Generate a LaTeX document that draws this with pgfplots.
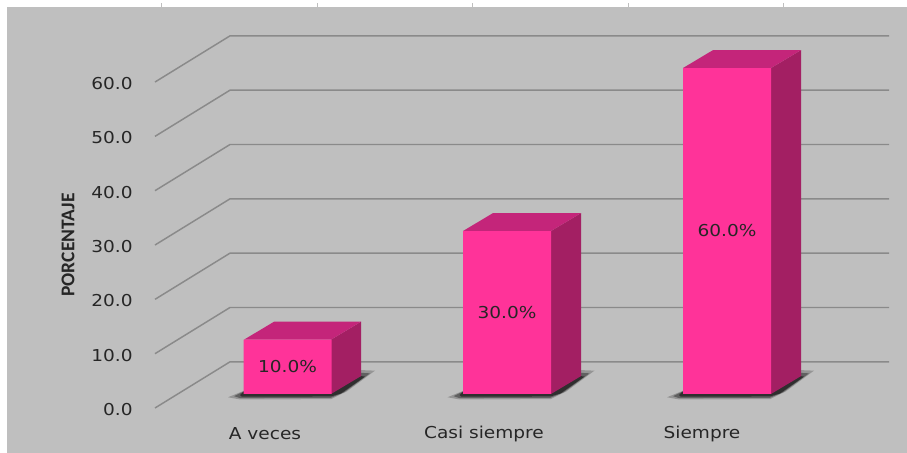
\documentclass[border=0pt]{standalone}
\usepackage{fontspec}
\setmainfont[FakeStretch=1.13]{DejaVu Sans}
\newfontfamily\labelfont{Carlito}
\usepackage{pgfplots}
\usepackage{pgfplotstable}
\pgfplotsset{compat=1.18}

\definecolor{bg}{HTML}{BFBFBF}
\definecolor{gridc}{HTML}{8A8A8A}
\definecolor{front}{HTML}{FF3399}
\definecolor{sidec}{HTML}{A31F63}
\definecolor{topc}{HTML}{C4257A}
\definecolor{txt}{HTML}{262626}

% 1 px of the reference = 0.75pt, x axis is in px, y axis in percent
\pgfplotstableread{
x v
287.5 10
507 30
727 60
}\bars

\begin{document}
\begin{tikzpicture}
\begin{axis}[
    scale only axis,
    width=680.25pt, height=339.75pt,
    xmin=0, xmax=907,
    ymin=-8.283, ymax=75.1,
    axis on top,
    axis line style={draw=none},
    tick style={draw=none},
    xtick={265,484,702},
    xticklabels={A veces,Casi siempre,Siempre},
    ytick={0,10,20,30,40,50,60},
    font=\fontsize{12.3}{14}\selectfont,
    tick label style={text=txt},
    yticklabel style={anchor=east, xshift=103pt, yshift=-1.2pt,
        /pgf/number format/.cd, fixed, fixed zerofill, precision=1, assume math mode=true},
    xticklabel style={anchor=center, yshift=14.5pt},
    every axis y label/.style={at={(axis cs:68,30)}, rotate=90, anchor=center,
        font=\labelfont\bfseries\fontsize{14.6}{16}\selectfont, text=txt},
    ylabel={PORCENTAJE},
    clip=false,
]
% background
\addplot[fill=bg, draw=none] coordinates {(7,-8.283) (7,73.8) (907,73.8) (907,-8.283)} --cycle;
% small marks above the panel
\addplot[gray!50, line width=.5pt] coordinates {(161,73.8) (161,74.6)};
\addplot[gray!50, line width=.5pt] coordinates {(317,73.8) (317,74.6)};
\addplot[gray!50, line width=.5pt] coordinates {(472,73.8) (472,74.6)};
\addplot[gray!50, line width=.5pt] coordinates {(628,73.8) (628,74.6)};
\addplot[gray!50, line width=.5pt] coordinates {(783,73.8) (783,74.6)};

% grid on floor side and back wall
\addplot[gridc, line width=1.1pt] coordinates {(155,0) (230,8.5) (889,8.5)};
\addplot[gridc, line width=1.1pt] coordinates {(155,10) (230,18.5) (889,18.5)};
\addplot[gridc, line width=1.1pt] coordinates {(155,20) (230,28.5) (889,28.5)};
\addplot[gridc, line width=1.1pt] coordinates {(155,30) (230,38.5) (889,38.5)};
\addplot[gridc, line width=1.1pt] coordinates {(155,40) (230,48.5) (889,48.5)};
\addplot[gridc, line width=1.1pt] coordinates {(155,50) (230,58.5) (889,58.5)};
\addplot[gridc, line width=1.1pt] coordinates {(155,60) (230,68.5) (889,68.5)};

% shadows
\pgfplotsinvokeforeach{0,219.5,439}{
  \addplot[fill=black, fill opacity=.22, draw=none, yshift=10.5pt, xshift=#1*.75pt] coordinates
    {(228,-.6) (244,.6) (331,.6) (361,4.4) (375,4.3) (347,.5) (331,-.95) (240,-1)} --cycle;
  \addplot[fill=black, fill opacity=.35, draw=none, yshift=10.5pt, xshift=#1*.75pt] coordinates
    {(234,-.4) (244,.5) (331,.5) (361,3.9) (370,3.8) (344,.3) (331,-.7) (240,-.75)} --cycle;
  \addplot[fill=black, fill opacity=.5, draw=none, yshift=10.5pt, xshift=#1*.75pt] coordinates
    {(240,-.2) (244,.5) (331,.5) (361,3.3) (365,3.2) (341,.1) (331,-.45) (242,-.5)} --cycle;
}

% bar sides and tops
\addplot[fill=sidec, draw=none, yshift=10.5pt] coordinates {(331,0) (361,3.3) (361,13.3) (331,10)} --cycle;
\addplot[fill=topc, draw=none, yshift=10.5pt] coordinates {(244,10) (274,13.3) (361,13.3) (331,10)} --cycle;
\addplot[fill=sidec, draw=none, yshift=10.5pt] coordinates {(551,0) (581,3.3) (581,33.3) (551,30)} --cycle;
\addplot[fill=topc, draw=none, yshift=10.5pt] coordinates {(463,30) (493,33.3) (581,33.3) (551,30)} --cycle;
\addplot[fill=sidec, draw=none, yshift=10.5pt] coordinates {(771,0) (801,3.3) (801,63.3) (771,60)} --cycle;
\addplot[fill=topc, draw=none, yshift=10.5pt] coordinates {(683,60) (713,63.3) (801,63.3) (771,60)} --cycle;

% bar fronts
\addplot[ybar, bar width=66pt, bar shift=0pt, fill=front, draw=none, yshift=10.5pt]
    table[x=x, y=v] {\bars};

% percentages in the middle of the bars
\addplot[draw=none, yshift=10.5pt,
    point meta=\thisrow{v},
    nodes near coords={\pgfmathprintnumber[fixed,fixed zerofill,precision=1,assume math mode=true]{\pgfplotspointmeta}\%},
    nodes near coords align=center,
    every node near coord/.append style={text=black!85}]
    table[x=x, y expr=\thisrow{v}/2] {\bars};
\end{axis}
\end{tikzpicture}
\end{document}
